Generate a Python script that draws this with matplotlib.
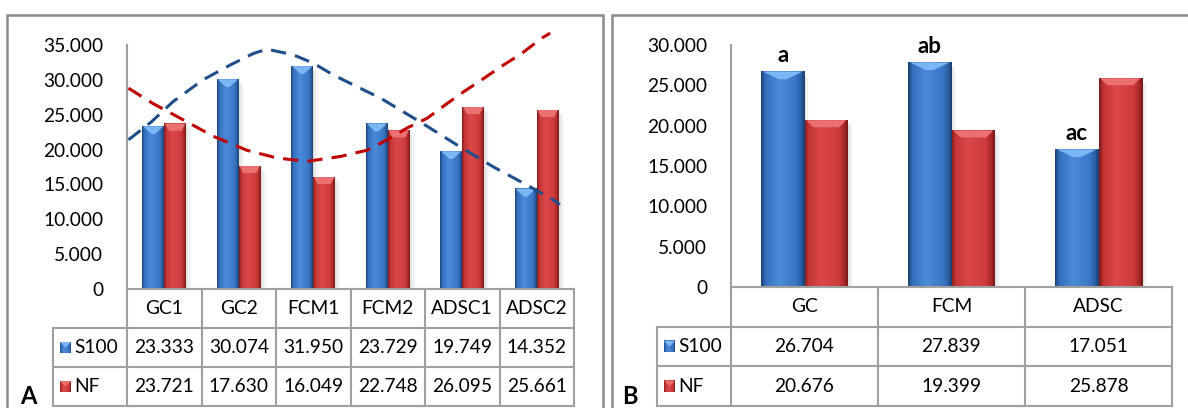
import numpy as np
import matplotlib
matplotlib.use("Agg")
import matplotlib.pyplot as plt
from matplotlib.colors import LinearSegmentedColormap
from matplotlib.patches import Rectangle, Polygon

plt.rcParams['font.family'] = ['Lato', 'DejaVu Sans']

# ---- data ----
cats_a = ['GC1', 'GC2', 'FCM1', 'FCM2', 'ADSC1', 'ADSC2']
s100_a = [23.333, 30.074, 31.950, 23.729, 19.749, 14.352]
nf_a = [23.721, 17.630, 16.049, 22.748, 26.095, 25.661]

cats_b = ['GC', 'FCM', 'ADSC']
s100_b = [26.704, 27.839, 17.051]
nf_b = [20.676, 19.399, 25.878]
letters_b = ['a', 'ab', 'ac']

# trend curves of panel A (category position, value)
trend_s100_x = [-0.48, -0.17, 0.12, 0.52, 0.88, 1.20, 1.38, 1.73, 2.00, 2.27, 2.63, 2.90, 3.43, 3.97, 4.42, 4.87, 5.22, 5.31]
trend_s100_y = [21.4, 24.0, 26.9, 30.0, 32.1, 33.8, 34.4, 33.6, 32.4, 30.7, 28.8, 27.4, 24.0, 20.4, 17.5, 14.9, 12.8, 12.1]
trend_nf_x = [-0.48, -0.15, 0.30, 0.66, 1.11, 1.51, 1.91, 2.36, 2.72, 2.99, 3.26, 3.53, 3.77, 4.02, 4.26, 4.55, 4.80, 5.07, 5.18]
trend_nf_y = [28.8, 26.6, 24.0, 21.9, 19.9, 18.8, 18.3, 19.0, 19.9, 21.4, 23.1, 24.5, 26.4, 28.3, 30.0, 32.1, 33.8, 36.0, 36.7]

W, H = 1188, 408
fig = plt.figure(figsize=(W / 100, H / 100), dpi=100)


def box(l, t, r, b):
    return [l / W, 1 - b / H, (r - l) / W, (b - t) / H]


blue_cmap = LinearSegmentedColormap.from_list(
    'blu', [(0, '#1d4378'), (0.1, '#3470bd'), (0.4, '#4b8bd8'), (0.8, '#3a77c6'), (0.93, '#2a5ca0'), (1, '#1b3f72')])
red_cmap = LinearSegmentedColormap.from_list(
    'rd', [(0, '#7e1b1b'), (0.1, '#c43535'), (0.4, '#dc4848'), (0.8, '#cc3a3a'), (0.93, '#a52727'), (1, '#741818')])
grad = np.linspace(0, 1, 64).reshape(1, -1)
TAB_GREY = '#a0a0a0'
FS = 13.8


def bevel_bar(ax, x0, w, h, cmap, cap_col, cap, inset, px_x):
    # soft shadow to the right
    for k in range(1, 6):
        ax.add_patch(Rectangle((x0 + k * px_x, 0), w, h - k * 0.15, color='k', alpha=0.025, lw=0, zorder=1))
    ax.imshow(grad, cmap=cmap, extent=[x0, x0 + w, 0, h], aspect='auto', zorder=2)
    ax.add_patch(Polygon([[x0 + w * 0.04, h], [x0 + w * 0.96, h], [x0 + w * (1 - inset), h - cap], [x0 + w * inset, h - cap]],
                         closed=True, color=cap_col, lw=0, zorder=3))


def panel(ax_box, tab_box, cats, s100, nf, ymax, step, legend_px, col_px):
    ax = fig.add_axes(box(*ax_box))
    n = len(cats)
    bw = 0.295
    ax_h = ax_box[3] - ax_box[1]
    cap = 7 * ymax / ax_h
    px_x = 1 / col_px
    for i in range(n):
        bevel_bar(ax, i, bw, nf[i], red_cmap, '#eb7070', cap, 0.2, px_x)
        bevel_bar(ax, i - bw, bw, s100[i], blue_cmap, '#7db6f4', cap * 1.1, 0.42, px_x)
    ax.set_xlim(-0.5, n - 0.5)
    ax.set_ylim(0, ymax)
    ax.set_yticks(np.arange(0, ymax + 0.1, step))
    ax.yaxis.set_major_formatter(plt.FuncFormatter(lambda v, p: '0' if v == 0 else f'{v:.3f}'))
    ax.tick_params(axis='y', length=0, pad=17, labelsize=FS)
    ax.set_xticks([])
    for s in ['top', 'right', 'bottom']:
        ax.spines[s].set_visible(False)
    ax.spines['left'].set_color(TAB_GREY)
    ax.spines['left'].set_linewidth(1.5)
    ax.patch.set_alpha(0)

    # data table under the plot
    tax = fig.add_axes(box(*tab_box))
    lu = legend_px / col_px
    tax.set_xlim(-0.5 - lu, n - 0.5)
    tax.set_ylim(0, 3)
    tax.axis('off')
    kw = dict(color=TAB_GREY, lw=1.5, clip_on=False, solid_capstyle='projecting')
    for k in range(n + 1):
        tax.plot([k - 0.5, k - 0.5], [0, 3], **kw)
    tax.plot([-0.5 - lu, -0.5 - lu], [0, 2], **kw)
    tax.plot([-0.5, n - 0.5], [3, 3], **kw)
    for yy in [0, 1, 2]:
        tax.plot([-0.5 - lu, n - 0.5], [yy, yy], **kw)
    for i in range(n):
        tax.text(i, 2.5, cats[i], ha='center', va='center', fontsize=FS)
        tax.text(i, 1.5, f'{s100[i]:.3f}', ha='center', va='center', fontsize=FS)
        tax.text(i, 0.5, f'{nf[i]:.3f}', ha='center', va='center', fontsize=FS)
    sw = 11 / col_px
    for yy, name, cmap, cc in [(1.5, 'S100', blue_cmap, '#7db6f4'), (0.5, 'NF', red_cmap, '#eb7070')]:
        x0 = -0.5 - lu + 7 / col_px
        tax.imshow(grad, cmap=cmap, extent=[x0, x0 + sw, yy - 0.14, yy + 0.14], aspect='auto', zorder=2)
        tax.add_patch(Polygon([[x0, yy + 0.14], [x0 + sw, yy + 0.14], [x0 + sw / 2, yy]], closed=True,
                              color=cc, lw=0, zorder=3))
        tax.text(x0 + sw + 3 / col_px, yy, name, ha='left', va='center', fontsize=FS)
    tax.set_xlim(-0.5 - lu, n - 0.5)
    tax.set_ylim(0, 3)
    return ax


ax_a = panel((127, 45, 574, 289), (53, 289, 574, 406), cats_a, s100_a, nf_a, 35, 5, 74, 74.5)
ax_a.plot(trend_s100_x, trend_s100_y, color='#1f4e8a', lw=2.2, linestyle=(0, (5, 3)), zorder=5, clip_on=False)
ax_a.plot(trend_nf_x, trend_nf_y, color='#c00000', lw=2.2, linestyle=(0, (5, 3)), zorder=5, clip_on=False)
ax_a.set_xlim(-0.5, 5.5)
ax_a.set_ylim(0, 35)

ax_b = panel((731, 45, 1172, 287), (657, 287, 1172, 406), cats_b, s100_b, nf_b, 30, 5, 74, 147)
for i, lab in enumerate(letters_b):
    ax_b.annotate(lab, (i - 0.295 / 2, s100_b[i]), xytext=(0, 16), textcoords='offset pixels',
                  ha='center', va='center', fontsize=16, fontweight='bold')
ax_b.set_xlim(-0.5, 2.5)
ax_b.set_ylim(0, 30)

# panel frames and letters
for l, r in [(7, 603), (612, 1196)]:
    fig.add_artist(Rectangle((l / W, -0.05), (r - l) / W, 1.05 - 15 / H, transform=fig.transFigure,
                             fill=False, ec='#8c8c8c', lw=1.8))
fig.text(28 / W, 1 - 397 / H, 'A', ha='center', va='center', fontsize=17, fontweight='bold')
fig.text(630 / W, 1 - 397 / H, 'B', ha='center', va='center', fontsize=17, fontweight='bold')

fig.savefig('out.png', dpi=100)
